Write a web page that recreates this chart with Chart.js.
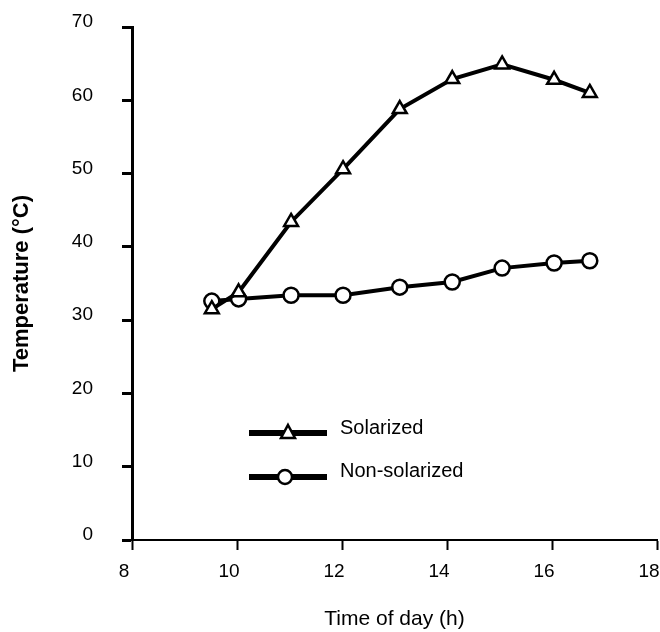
<!DOCTYPE html>
<html>
<head>
<meta charset="utf-8">
<title>Temperature vs time of day</title>
<script src="https://cdn.jsdelivr.net/npm/chart.js@4.4.1/dist/chart.umd.min.js"></script>
<style>
    html, body { margin: 0; padding: 0; background: #fff; }
    #wrap { width: 660px; height: 632px; }
</style>
</head>
<body>
<div id="wrap"><canvas id="chart" width="660" height="632"></canvas></div>
<script>
// data
const seriesNames = ["Solarized", "Non-solarized"];
const solarizedHours = [9.52, 10.03, 11.03, 12.02, 13.1, 14.1, 15.05, 16.04, 16.72];
const solarizedTemps = [31.5, 33.8, 43.4, 50.6, 58.8, 62.9, 64.9, 62.8, 61.0];
const nonSolarizedHours = [9.52, 10.03, 11.03, 12.02, 13.1, 14.1, 15.05, 16.04, 16.72];
const nonSolarizedTemps = [32.6, 32.9, 33.4, 33.4, 34.5, 35.2, 37.1, 37.8, 38.1];
const xTicks = [8, 10, 12, 14, 16, 18];
const yTicks = [0, 10, 20, 30, 40, 50, 60, 70];

function toPoints(xs, ys) {
    return xs.map((x, i) => ({ x: x, y: ys[i] }));
}

// keep the plot area edges where the figure has them
function noLabelPadding(axis) {
    axis.paddingLeft = 0;
    axis.paddingRight = 0;
    axis.paddingTop = 0;
    axis.paddingBottom = 0;
}

// legend drawn inside the plot, like the original figure
const insideLegend = {
    id: "insideLegend",
    afterDraw(chart) {
        const ctx = chart.ctx;
        const rows = [
            { label: seriesNames[0], style: "triangle", lineY: 433, textY: 428, markX: 288 },
            { label: seriesNames[1], style: "circle", lineY: 477, textY: 471, markX: 285 }
        ];
        ctx.save();
        rows.forEach(row => {
            ctx.strokeStyle = "#000";
            ctx.lineWidth = 6;
            ctx.beginPath();
            ctx.moveTo(249, row.lineY);
            ctx.lineTo(327, row.lineY);
            ctx.stroke();

            ctx.fillStyle = "#fff";
            ctx.lineWidth = 2.5;
            ctx.beginPath();
            if (row.style === "circle") {
                ctx.arc(row.markX, row.lineY, 7, 0, Math.PI * 2);
            } else {
                ctx.moveTo(row.markX, row.lineY - 8);
                ctx.lineTo(row.markX + 7, row.lineY + 5);
                ctx.lineTo(row.markX - 7, row.lineY + 5);
                ctx.closePath();
            }
            ctx.fill();
            ctx.stroke();

            ctx.fillStyle = "#000";
            ctx.font = "20px 'Liberation Sans', Arial, sans-serif";
            ctx.textAlign = "left";
            ctx.textBaseline = "middle";
            ctx.fillText(row.label, 340, row.textY);
        });
        ctx.restore();
    }
};

const ctx = document.getElementById("chart").getContext("2d");
new Chart(ctx, {
    type: "line",
    data: {
        datasets: [
            {
                label: seriesNames[0],
                data: toPoints(solarizedHours, solarizedTemps),
                borderColor: "#000",
                borderWidth: 4,
                pointStyle: "triangle",
                pointRadius: 8,
                pointBorderWidth: 2.5,
                pointBackgroundColor: "#fff",
                pointBorderColor: "#000",
                tension: 0
            },
            {
                label: seriesNames[1],
                data: toPoints(nonSolarizedHours, nonSolarizedTemps),
                borderColor: "#000",
                borderWidth: 4,
                pointStyle: "circle",
                pointRadius: 7.5,
                pointBorderWidth: 2.5,
                pointBackgroundColor: "#fff",
                pointBorderColor: "#000",
                tension: 0
            }
        ]
    },
    options: {
        responsive: false,
        animation: false,
        layout: { autoPadding: false, padding: { top: 27, right: 3, bottom: 0, left: 0 } },
        plugins: {
            legend: { display: false },
            tooltip: { enabled: false }
        },
        scales: {
            x: {
                type: "linear",
                min: xTicks[0],
                max: xTicks[xTicks.length - 1],
                afterBuildTicks: axis => { axis.ticks = xTicks.map(v => ({ value: v })); },
                afterFit: axis => { noLabelPadding(axis); axis.height = 92; },
                grid: { drawOnChartArea: false, drawTicks: true, tickLength: 10, tickWidth: 2, color: "#000" },
                border: { display: true, color: "#000", width: 2 },
                ticks: {
                    color: "#000",
                    padding: 10,
                    labelOffset: -8,
                    maxRotation: 0,
                    font: { family: "'Liberation Sans', Arial, sans-serif", size: 19 }
                },
                title: {
                    display: true,
                    text: "Time of day (h)",
                    color: "#000",
                    padding: { top: 0, bottom: 0 },
                    font: { family: "'Liberation Sans', Arial, sans-serif", size: 21 }
                }
            },
            y: {
                min: yTicks[0],
                max: yTicks[yTicks.length - 1],
                afterBuildTicks: axis => { axis.ticks = yTicks.map(v => ({ value: v })); },
                afterFit: axis => { noLabelPadding(axis); axis.width = 132; },
                grid: { drawOnChartArea: false, drawTicks: true, tickLength: 10, tickWidth: 3, color: "#000" },
                border: { display: true, color: "#000", width: 3 },
                ticks: {
                    color: "#000",
                    padding: 29,
                    labelOffset: -5,
                    font: { family: "'Liberation Sans', Arial, sans-serif", size: 19 }
                },
                title: {
                    display: true,
                    text: "Temperature (°C)",
                    color: "#000",
                    padding: { top: 11, bottom: 0 },
                    font: { family: "'Liberation Sans', Arial, sans-serif", size: 22, weight: "bold", lineHeight: 1 }
                }
            }
        }
    },
    plugins: [insideLegend]
});
</script>
</body>
</html>
